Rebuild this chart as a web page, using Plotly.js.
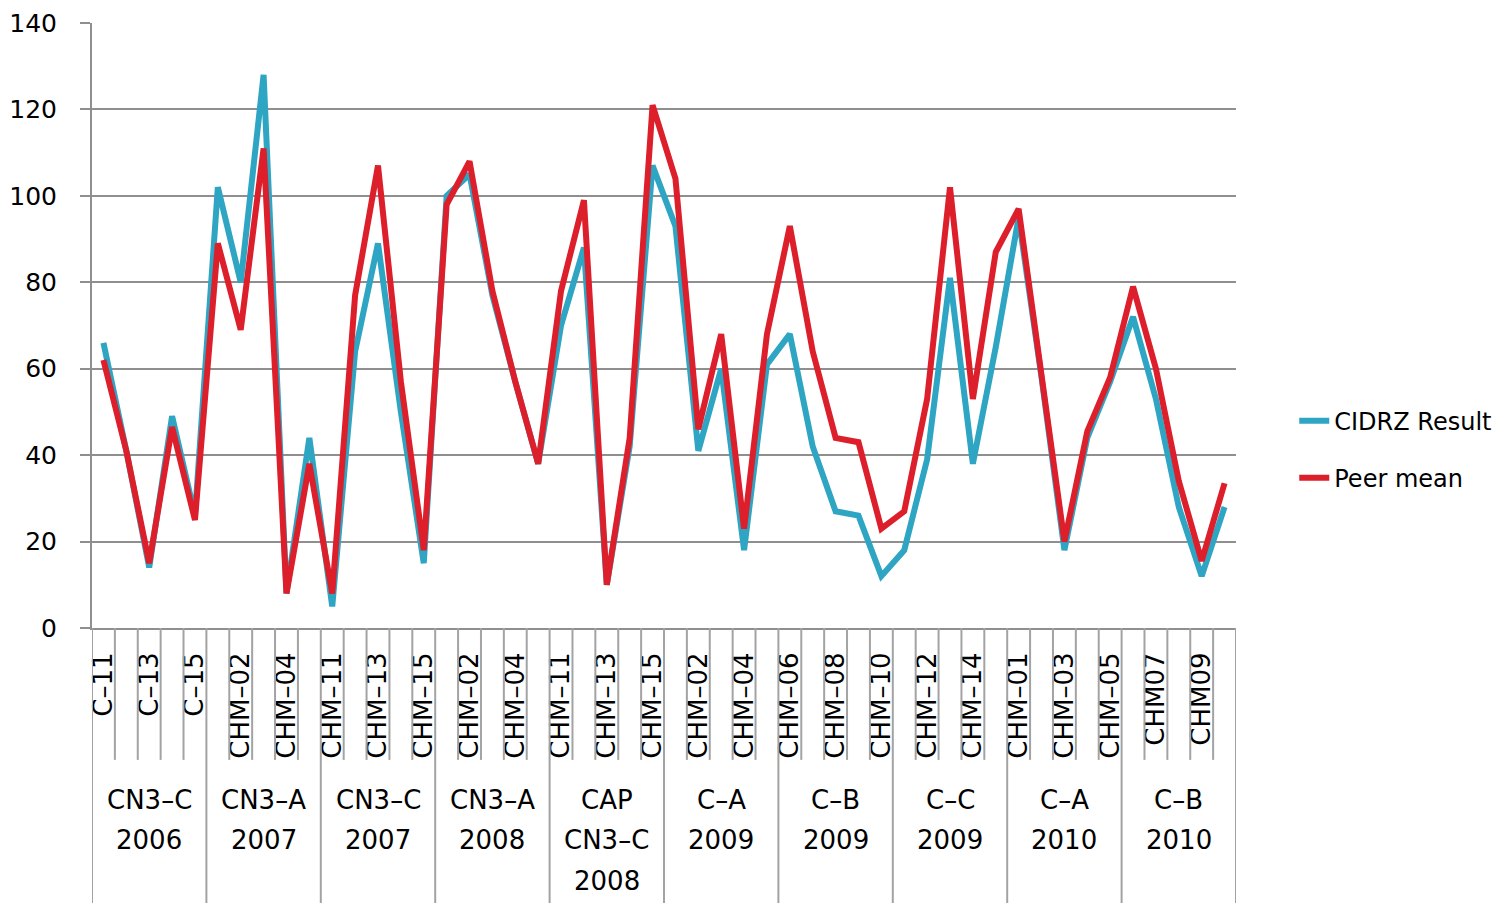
<!DOCTYPE html>
<html>
<head>
<meta charset="utf-8">
<script src="https://cdn.plot.ly/plotly-3.0.1.min.js"></script>
<style>html,body{margin:0;padding:0;background:#fff;}#chart{width:1508px;height:903px;}</style>
</head>
<body>
<div id="chart"></div>
<script>
const categories = [
  'C–11','C–12','C–13','C–14','C–15',
  'CHM–01','CHM–02','CHM–03','CHM–04','CHM–05',
  'CHM–11','CHM–12','CHM–13','CHM–14','CHM–15',
  'CHM–01','CHM–02','CHM–03','CHM–04','CHM–05',
  'CHM–11','CHM–12','CHM–13','CHM–14','CHM–15',
  'CHM–01','CHM–02','CHM–03','CHM–04','CHM–05',
  'CHM–06','CHM–07','CHM–08','CHM–09','CHM–10',
  'CHM–11','CHM–12','CHM–13','CHM–14','CHM–15',
  'CHM–01','CHM–02','CHM–03','CHM–04','CHM–05',
  'CHM06','CHM07','CHM08','CHM09','CHM10'
];
const groupLabels = [
  ['CN3–C','2006'], ['CN3–A','2007'], ['CN3–C','2007'], ['CN3–A','2008'],
  ['CAP','CN3–C','2008'], ['C–A','2009'], ['C–B','2009'], ['C–C','2009'],
  ['C–A','2010'], ['C–B','2010']
];
const groupSize = 5;
const cidrzResult = [66,41,14,49,26, 102,80,128,8,44, 5,64,89,50,15, 100,105,77,57,38, 70,88,10,42,107, 93,41,60,18,61, 68,42,27,26,12, 18,39,81,38,65, 95,58,18,44,57, 72,53,28,12,28];
const peerMean    = [62,41,15,46.5,25, 89,69,111,8,38, 8,77,107,57,18, 98,108,78,57,38, 78,99,10,44,121, 104,46,68,23,68, 93,64,44,43,23, 27,53,102,53,87, 97,58,20,45.5,58, 79,60,34,15.5,33.5];
const seriesNames = ['CIDRZ Result', 'Peer mean'];
const yTicks = [0,20,40,60,80,100,120,140];

const xIdx = categories.map((_, i) => i);
const tickvals = xIdx.filter(i => i % 2 === 0);
const ticktext = tickvals.map(i => categories[i]);

const FONT = 'DejaVu Sans, Verdana, sans-serif';
const GRID = '#8f8f8f';
const SEP = '#a3a3a3';

const traces = [
  {x: xIdx, y: cidrzResult, name: seriesNames[0], type: 'scatter', mode: 'lines',
   line: {color: '#2ea5c3', width: 6}, legendgroup: 'a'},
  {x: xIdx, y: peerMean, name: seriesNames[1], type: 'scatter', mode: 'lines',
   line: {color: '#dc1f2b', width: 6}, legendgroup: 'b'}
];

const shortBottom = -0.218, longBottom = -0.46;
const shapes = [];
for (let b = 0; b <= categories.length; b++) {
  const isGroup = b % groupSize === 0;
  shapes.push({type: 'line', xref: 'x', yref: 'paper', x0: b - 0.5, x1: b - 0.5,
    y0: 0, y1: isGroup ? longBottom : shortBottom, line: {color: SEP, width: 2}});
}
const lineY = [-0.284, -0.351, -0.418];
const annotations = [];
groupLabels.forEach((lines, g) => {
  lines.forEach((t, k) => {
    annotations.push({x: g * groupSize + (groupSize - 1) / 2, xref: 'x', y: lineY[k], yref: 'paper',
      text: t, showarrow: false, xanchor: 'center', yanchor: 'middle',
      font: {family: FONT, size: 26, color: '#000'}});
  });
});

const layout = {
  width: 1508, height: 903,
  margin: {l: 92, r: 271, t: 23, b: 275},
  paper_bgcolor: '#fff', plot_bgcolor: '#fff',
  font: {family: FONT, color: '#000'},
  showlegend: true,
  legend: {x: 1.05, y: 0.295, xanchor: 'left', yanchor: 'middle', traceorder: 'grouped',
    tracegroupgap: 23, font: {family: FONT, size: 24, color: '#000'}, bgcolor: 'rgba(0,0,0,0)'},
  xaxis: {range: [-0.5, categories.length - 0.5], tickmode: 'array', tickvals: tickvals, ticktext: ticktext,
    tickangle: -90, ticks: '', showgrid: false, zeroline: false, showline: true,
    linecolor: GRID, linewidth: 2, ticklabelstandoff: 12,
    tickfont: {family: FONT, size: 26, color: '#000'}},
  yaxis: {range: [0, 140], tickmode: 'array', tickvals: yTicks, showgrid: true, gridcolor: GRID, gridwidth: 2,
    zeroline: false, showline: true, linecolor: GRID, linewidth: 2,
    ticks: 'outside', ticklen: 10, tickwidth: 2, tickcolor: GRID, ticklabelstandoff: 18,
    tickfont: {family: FONT, size: 25, color: '#000'}},
  shapes: shapes,
  annotations: annotations
};

Plotly.newPlot('chart', traces, layout, {displayModeBar: false, staticPlot: true});
</script>
</body>
</html>
